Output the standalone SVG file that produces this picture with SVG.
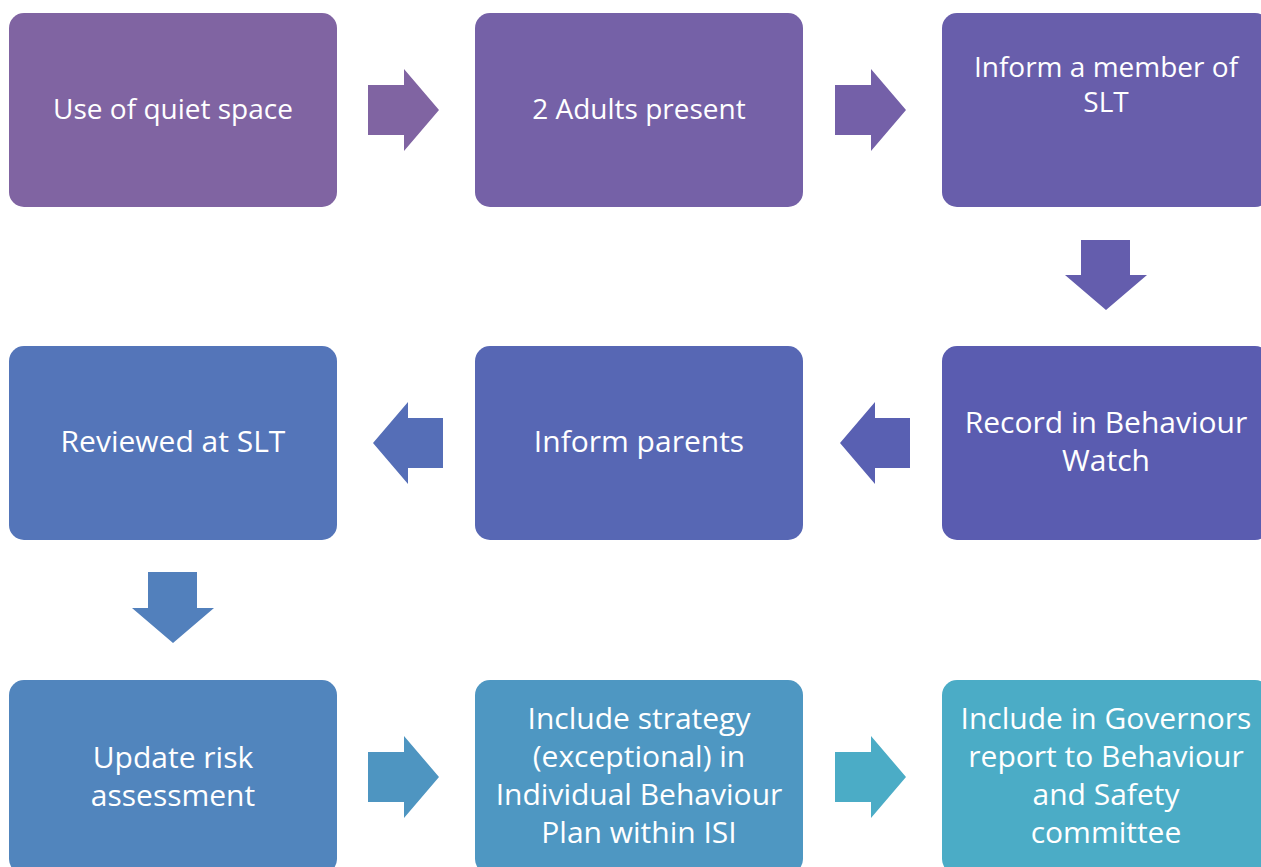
<svg xmlns="http://www.w3.org/2000/svg" width="1261" height="867" viewBox="0 0 1261 867">
<style>
.box{stroke:none}
.t{font-family:"Open Sans","Liberation Sans",sans-serif;fill:#ffffff;text-anchor:middle;font-size:30px}
.s{font-size:28px}
</style>
<rect width="1261" height="867" fill="#ffffff"/>
<g id="connectors">
<polygon fill="#8064A2" points="368,85 404,85 404,69 439,110 404,151 404,135 368,135"/>
<polygon fill="#7460A8" points="835,85 871,85 871,69 906,110 871,151 871,135 835,135"/>
<polygon fill="#645DAD" points="1081,240 1130,240 1130,275 1147,275 1106,310 1065,275 1081,275"/>
<polygon fill="#5960B2" points="910,418 875,418 875,402 840,443 875,484 875,468 910,468"/>
<polygon fill="#556EB7" points="443,418 408,418 408,402 373,443 408,484 408,468 443,468"/>
<polygon fill="#5280BC" points="148,572 197,572 197,608 214,608 173,643 132,608 148,608"/>
<polygon fill="#4E95C1" points="368,752 404,752 404,736 439,777 404,818 404,802 368,802"/>
<polygon fill="#4BACC6" points="835,752 871,752 871,736 906,777 871,818 871,802 835,802"/>
</g>
<g id="n1"><rect class="box" x="9" y="13" width="328" height="194" rx="15" fill="#8064A2"/><text class="t s" x="173" y="119">Use of quiet space</text></g>
<g id="n2"><rect class="box" x="475" y="13" width="328" height="194" rx="15" fill="#7561A7"/><text class="t s" x="639" y="119">2 Adults present</text></g>
<g id="n3"><rect class="box" x="942" y="13" width="328" height="194" rx="15" fill="#685EAB"/><text class="t s" x="1106" y="77">Inform a member of</text><text class="t s" x="1106" y="112">SLT</text></g>
<g id="n4"><rect class="box" x="942" y="346" width="328" height="194" rx="15" fill="#5A5CB0"/><text class="t" x="1106" y="433">Record in Behaviour</text><text class="t" x="1106" y="471">Watch</text></g>
<g id="n5"><rect class="box" x="475" y="346" width="328" height="194" rx="15" fill="#5767B4"/><text class="t" x="639" y="452">Inform parents</text></g>
<g id="n6"><rect class="box" x="9" y="346" width="328" height="194" rx="15" fill="#5475B9"/><text class="t" x="173" y="452">Reviewed at SLT</text></g>
<g id="n7"><rect class="box" x="9" y="680" width="328" height="194" rx="15" fill="#5185BD"/><text class="t" x="173" y="768">Update risk</text><text class="t" x="173" y="806">assessment</text></g>
<g id="n8"><rect class="box" x="475" y="680" width="328" height="194" rx="15" fill="#4E97C2"/><text class="t" x="639" y="729">Include strategy</text><text class="t" x="639" y="767">(exceptional) in</text><text class="t" x="639" y="805">Individual Behaviour</text><text class="t" x="639" y="843">Plan within ISI</text></g>
<g id="n9"><rect class="box" x="942" y="680" width="328" height="194" rx="15" fill="#4BACC6"/><text class="t" x="1106" y="729">Include in Governors</text><text class="t" x="1106" y="767">report to Behaviour</text><text class="t" x="1106" y="805">and Safety</text><text class="t" x="1106" y="843">committee</text></g>
</svg>
